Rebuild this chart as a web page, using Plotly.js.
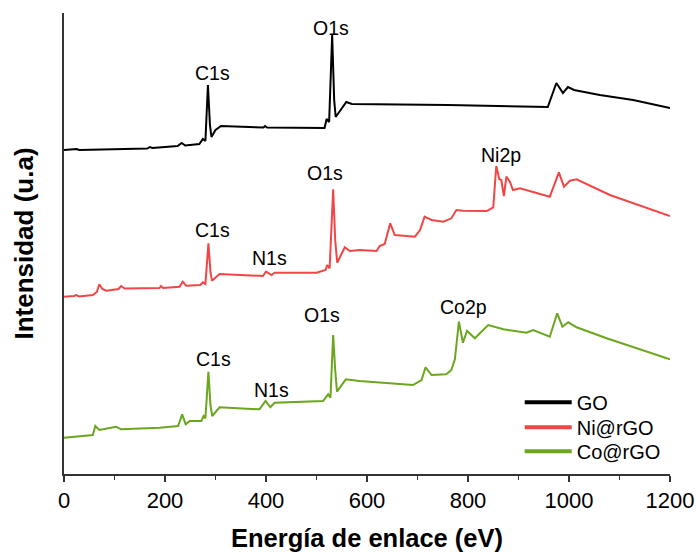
<!DOCTYPE html>
<html>
<head>
<meta charset="utf-8">
<script src="https://cdn.plot.ly/plotly-3.0.1.min.js"></script>
<style>html,body{margin:0;padding:0;background:#fff;}#chart{width:696px;height:552px;}</style>
</head>
<body>
<div id="chart"></div>
<script>
// Binding energy (eV) and intensity (arbitrary units, offset stacks)
var goE = [0,25,30,100,165,170,175,225,233,240,268,275,280,285,289,292,300,311,395,398,402,516,520,525,531,535,538,559,570,760,958,975,988,998,1010,1061,1127,1200];
var goI = [324,325,324,324.5,325.5,327,326,328,331,328.5,330,335,333,389,349,337,344,348,346.5,348,346.5,346,355,352,439,374,357,372,370,369,367,391,381,387,384,379,374,366];

var niE = [0,20,24,30,57,65,70,76,84,108,113,120,189,192,196,229,235,242,270,275,280,286,290,293,308,394,400,411,417,500,518,521,526,533,537,541,556,566,586,619,625,635,646,655,695,705,714,728,751,767,777,790,837,850,856,862,866,871,876,883,889,903,962,980,990,1002,1015,1081,1200];
var niI = [177.3,178,179,177.5,179,182,189.7,185,183.3,185,188,185.5,186,188,186,187.3,192.3,188.3,189,191.7,190,230.7,202,193.3,200,198,202.3,199,201.3,201.3,204,209,205.7,284.7,234,211.3,226.7,223,224,223,228,230,250.7,239,237.3,244,257.3,254,252.3,255.7,264,263.3,263,266.7,308,294.7,294,278,297.3,292.3,284,285.7,277.3,301.7,287.3,293.3,294.7,279,258];

var coE = [0,31,57,62,70,103,113,189,226,234,241,249,272,276.5,280,286,290,293.6,308,387,399,408.6,417,513,523,527.6,533,537,540.6,558,585,691,701,708,716,728,757,767,774,782,790,798,813.5,827,840,870,916,929,962,976.6,987,998.5,1015,1074.5,1200];
var coI = [36.3,38,39,48,44,47.3,44.7,46.3,48,59.7,49.7,53,53,58,55.7,102.3,69,58,66.7,64.7,73,66.7,71.3,73,79.7,76.3,139,104,82.3,94.7,93,89,92.3,94,106.7,99,99.7,104,114.7,152.3,131.3,143.3,135.7,142.3,149,144.7,141.3,144,137.3,160.7,147.3,151.7,146.7,135.7,114.7];

var seriesNames = ['GO','Ni@rGO','Co@rGO'];
var seriesColors = ['#000000','#f24646','#6aa61e'];

// Peak labels
var labText = ['C1s','O1s','C1s','N1s','O1s','Ni2p','C1s','N1s','O1s','Co2p'];
var labE    = [294,529.5,294,407,517.6,866,296,410,510,792];
var labI    = [401,446,244,216,301,319,115,84,159,167];

var xTicks = [0,200,400,600,800,1000,1200];

var dataE = [goE, niE, coE];
var dataI = [goI, niI, coI];
var legendIds = ['legend','legend2','legend3'];
var traces = [];
for (var i = 0; i < 3; i++) {
  traces.push({x: dataE[i], y: dataI[i], type:'scatter', mode:'lines', showlegend:false,
    line:{color: seriesColors[i], width:2}, hoverinfo:'skip'});
}
for (var j = 0; j < 3; j++) {
  traces.push({x:[null], y:[null], type:'scatter', mode:'lines', name: seriesNames[j],
    legend: legendIds[j], line:{color: seriesColors[j], width:4}});
}

var annotations = labText.map(function(t, k){
  return {x: labE[k], y: labI[k], xref:'x', yref:'y', text: t, showarrow:false,
    font:{family:'Arial, Liberation Sans, sans-serif', size:19.5, color:'#000'}};
});

function legendAt(ytop) {
  return {x:0.752, y:ytop, xanchor:'left', yanchor:'top', bgcolor:'rgba(0,0,0,0)',
    font:{size:20, color:'#000'}, itemwidth:47};
}

var layout = {
  width:696, height:552,
  margin:{l:64, r:26, t:13, b:78},
  paper_bgcolor:'#fff', plot_bgcolor:'#fff',
  font:{family:'Arial, Liberation Sans, sans-serif', color:'#000'},
  xaxis:{range:[0,1200], tickvals:xTicks, ticktext:xTicks.map(String),
    showgrid:false, zeroline:false, showline:true, linecolor:'#333', linewidth:1.6,
    ticks:'outside', ticklen:6, tickwidth:1.4, tickcolor:'#333',
    minor:{dtick:100, tick0:0, ticks:'outside', ticklen:4, tickwidth:1.2, tickcolor:'#333', showgrid:false},
    tickfont:{size:22, color:'#000'},
    title:{text:'<b>Energía de enlace (eV)</b>', font:{size:25.5, color:'#000'}, standoff:24}},
  yaxis:{range:[0,461], showgrid:false, zeroline:false, showline:true, linecolor:'#333', linewidth:1.6,
    ticks:'', showticklabels:false,
    title:{text:'<b>Intensidad (u.a)</b>', font:{size:26, color:'#000'}, standoff:21}},
  legend: legendAt(0.198),
  legend2: legendAt(0.1438),
  legend3: legendAt(0.0918),
  annotations: annotations
};

Plotly.newPlot('chart', traces, layout, {staticPlot:true, displayModeBar:false});
</script>
</body>
</html>
